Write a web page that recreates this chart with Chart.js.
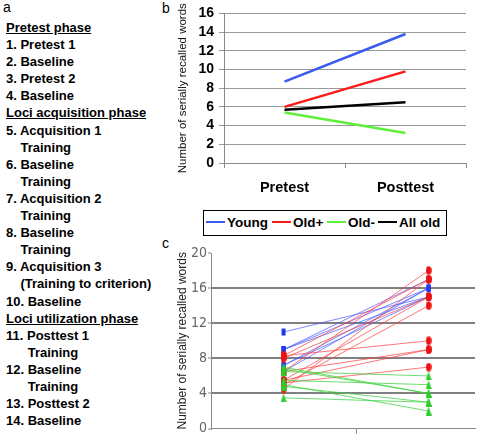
<!DOCTYPE html>
<html>
<head>
<meta charset="utf-8">
<script src="https://cdn.jsdelivr.net/npm/chart.js@4.4.0/dist/chart.umd.min.js"></script>
<style>
  body { margin: 0; width: 480px; height: 438px; position: relative; overflow: hidden; background: #fff;
         font-family: "Liberation Sans", Arial, sans-serif; color: #000; }
  .lbl { position: absolute; font-size: 14px; line-height: 14px; }
  #steps { position: absolute; left: 6px; top: 19px; font-weight: bold; font-size: 13px; line-height: 17.1px; }
  #steps div { white-space: nowrap; }
  #steps .u { text-decoration: underline; }
  #steps .i1 { padding-left: 14.5px; }
  #steps .i2 { padding-left: 21.7px; }
  #chartB { position: absolute; left: 170px; top: 0; }
  #chartC { position: absolute; left: 170px; top: 240px; }
  #legend { position: absolute; left: 203px; top: 210px; width: 242px; height: 24px; border: 1px solid #000;
            font-weight: bold; font-size: 13.5px; }
  #legend span.item { position: absolute; top: 4px; white-space: nowrap; }
  #legend span.ln { display: inline-block; width: 19px; height: 2px; vertical-align: middle; margin-right: 2px; position: relative; top: -1px; }
</style>
</head>
<body>
<div class="lbl" style="left:3px;top:0">a</div>
<div class="lbl" style="left:162px;top:1px">b</div>
<div class="lbl" style="left:162px;top:236px">c</div>

<div id="steps">
  <div class="u">Pretest phase</div>
  <div>1. Pretest 1</div>
  <div>2. Baseline</div>
  <div>3. Pretest 2</div>
  <div>4. Baseline</div>
  <div class="u">Loci acquisition phase</div>
  <div>5. Acquisition 1</div>
  <div class="i1">Training</div>
  <div>6. Baseline</div>
  <div class="i1">Training</div>
  <div>7. Acquisition 2</div>
  <div class="i1">Training</div>
  <div>8. Baseline</div>
  <div class="i1">Training</div>
  <div>9. Acquisition 3</div>
  <div class="i1">(Training to criterion)</div>
  <div>10. Baseline</div>
  <div class="u">Loci utilization phase</div>
  <div>11. Posttest 1</div>
  <div class="i2">Training</div>
  <div>12. Baseline</div>
  <div class="i2">Training</div>
  <div>13. Posttest 2</div>
  <div>14. Baseline</div>
</div>

<canvas id="chartB" width="310" height="200"></canvas>
<div id="legend"></div>
<canvas id="chartC" width="310" height="198"></canvas>

<script>
// panel b: group means
const phases = ['Pretest', 'Posttest'];
const groups = ['Young', 'Old+', 'Old-', 'All old'];
const groupColors = ['#3a5af0', '#ff1a1a', '#5ef03a', '#000000'];
const meanPre = [8.7, 6.0, 5.4, 5.7];
const meanPost = [13.8, 9.8, 3.2, 6.5];

// panel c: single subjects (pretest, posttest)
const youngPre = [11, 9, 9, 9, 7.2, 7.2, 6.5];
const youngPost = [15, 17, 16, 15, 16, 15, 16];
const oldPlusPre = [8.3, 8.0, 6.5, 4.5, 5.5, 5.0, 8.3, 6.5, 5.5, 5.2];
const oldPlusPost = [17, 15, 18, 17, 15, 14, 10, 9, 9, 7];
const oldMinusPre = [7.0, 6.5, 5.5, 5.0, 4.8, 3.5, 6.8];
const oldMinusPost = [4, 6, 5, 2, 3, 3, 4];
const cPositions = [1, 3];

const yTitle = 'Number of serially recalled words';

// legend for b
const legendEl = document.getElementById('legend');
const legendX = [2, 68, 123, 174];
groups.forEach((g, i) => {
    legendEl.insertAdjacentHTML('beforeend',
        `<span class="item" style="left:${legendX[i]}px"><span class="ln" style="background:${groupColors[i]}"></span>${g}</span>`);
});

new Chart(document.getElementById('chartB'), {
    type: 'line',
    data: {
        labels: phases,
        datasets: groups.map((g, i) => ({
            label: g,
            data: [meanPre[i], meanPost[i]],
            borderColor: groupColors[i],
            borderWidth: 2.5,
            pointRadius: 0,
            tension: 0
        }))
    },
    options: {
        responsive: false,
        animation: false,
        layout: { padding: { top: 8, right: 14 } },
        plugins: { legend: { display: false }, tooltip: { enabled: false } },
        scales: {
            x: {
                offset: true,
                grid: { offset: true, drawOnChartArea: false, color: '#888', tickLength: 5 },
                border: { color: '#888' },
                ticks: { color: '#000', font: { family: 'Liberation Sans', size: 14.5, weight: 'bold' }, padding: 11 },
                afterFit: s => { s.height = 37; }
            },
            y: {
                min: 0, max: 16,
                ticks: { stepSize: 2, autoSkip: false, color: '#000', font: { family: 'Liberation Sans', size: 14, weight: 'bold' }, padding: 5 },
                grid: { color: '#999', tickLength: 5 },
                border: { color: '#888' },
                title: { display: true, text: yTitle, color: '#111', font: { family: 'Liberation Sans', size: 11.5 }, padding: { top: 6, bottom: 0 } },
                afterFit: s => { s.width = 54; }
            }
        }
    }
});

function marker(color, shape) {
    const c = document.createElement('canvas');
    c.width = 6; c.height = 9;
    const x = c.getContext('2d');
    x.fillStyle = color;
    if (shape === 'rect') {
        x.fillRect(1, 1, 4, 7);
    } else if (shape === 'round') {
        x.beginPath();
        x.ellipse(3, 4.5, 2.8, 4.2, 0, 0, Math.PI * 2);
        x.fill();
    } else {
        x.beginPath();
        x.moveTo(3, 0); x.lineTo(6, 9); x.lineTo(0, 9);
        x.closePath();
        x.fill();
    }
    return c;
}

const cSets = [];
function addSubjects(pre, post, lineColor, img) {
    pre.forEach((v, i) => {
        cSets.push({
            data: [{ x: cPositions[0], y: v }, { x: cPositions[1], y: post[i] }],
            borderColor: lineColor,
            borderWidth: 1,
            pointStyle: img,
            pointRadius: 4,
            tension: 0
        });
    });
}
addSubjects(oldMinusPre, oldMinusPost, 'rgba(60,210,60,0.75)', marker('#2ecc2e', 'tri'));
addSubjects(oldPlusPre, oldPlusPost, 'rgba(255,60,60,0.7)', marker('#ee1111', 'round'));
addSubjects(youngPre, youngPost, 'rgba(70,90,255,0.7)', marker('#2238f0', 'rect'));

new Chart(document.getElementById('chartC'), {
    type: 'line',
    data: { datasets: cSets },
    options: {
        responsive: false,
        animation: false,
        layout: { padding: { top: 13, right: 3 } },
        plugins: { legend: { display: false }, tooltip: { enabled: false } },
        scales: {
            x: {
                type: 'linear', min: 0, max: 3.64,
                afterBuildTicks: s => { s.ticks = [{ value: 2 }]; },
                ticks: { display: false },
                grid: { drawOnChartArea: false, color: '#888', tickLength: 5 },
                border: { color: '#888' },
                afterFit: s => { s.height = 9; }
            },
            y: {
                min: 0, max: 20,
                ticks: { stepSize: 4, color: '#666', font: { family: "'Liberation Sans Narrow', 'DejaVu Sans Condensed', sans-serif", size: 14 }, padding: 1 },
                grid: {
                    color: c => (c.tick && (c.tick.value === 0 || c.tick.value === 20)) ? 'rgba(0,0,0,0)' : '#808080',
                    lineWidth: 2,
                    tickColor: '#888', tickWidth: 1, tickLength: 3
                },
                border: { color: '#888' },
                title: { display: true, text: yTitle, color: '#222', font: { family: 'Liberation Sans', size: 12 }, padding: { top: 5, bottom: 0 } },
                afterFit: s => { s.width = 41; }
            }
        }
    }
});
</script>
</body>
</html>
